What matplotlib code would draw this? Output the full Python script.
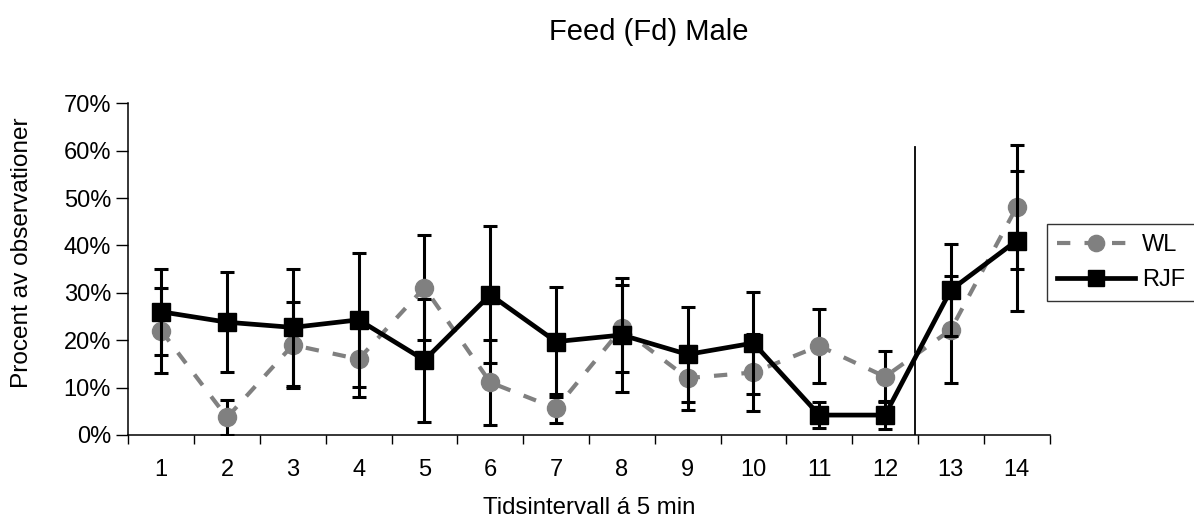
import matplotlib.pyplot as plt
import numpy as np

plt.rcParams['font.family'] = ['Liberation Sans', 'DejaVu Sans']

intervals = [1, 2, 3, 4, 5, 6, 7, 8, 9, 10, 11, 12, 13, 14]
wl = [22.0, 3.7, 19.0, 16.0, 31.1, 11.1, 5.6, 22.5, 12.0, 13.2, 18.8, 12.3, 22.2, 48.1]
wl_err = [9.0, 3.7, 9.1, 8.0, 11.0, 9.0, 3.0, 9.2, 6.7, 8.1, 7.8, 5.4, 11.3, 13.1]
rjf = [26.0, 23.8, 22.7, 24.3, 15.8, 29.6, 19.7, 21.1, 17.0, 19.4, 4.2, 4.2, 30.6, 41.0]
rjf_err = [9.1, 10.6, 12.3, 14.1, 13.0, 14.4, 11.6, 12.0, 10.1, 10.7, 2.7, 2.9, 9.8, 14.8]
yticks = [0, 10, 20, 30, 40, 50, 60, 70]
split_x = 12.45          # vertical divider between interval 12 and 13
split_top = 60.7

x = np.array(intervals)
fig = plt.figure(figsize=(11.94, 5.23), dpi=100)
ax = fig.add_axes([0.1075, 0.1683, 0.7715, 0.6342])

# WL - grey dashed with circles
ax.errorbar(x, wl, yerr=wl_err, fmt='none', ecolor='black', elinewidth=2.2,
            capsize=4.7, capthick=2.2, zorder=2)
wl_line, = ax.plot(x, wl, color='#808080', lw=3, dashes=(3.2, 3.4),
                   marker='o', ms=13, mec='#808080', mfc='#808080', zorder=3)

# RJF - black solid with squares
ax.errorbar(x, rjf, yerr=rjf_err, fmt='none', ecolor='black', elinewidth=2.2,
            capsize=4.7, capthick=2.2, zorder=4)
rjf_line, = ax.plot(x, rjf, color='black', lw=3.4, marker='s', ms=12.5,
                    mec='black', mfc='black', zorder=5)

ax.plot([split_x, split_x], [0, split_top], color='black', lw=1.3, zorder=1)

ax.set_xlim(0.5, 14.5)
ax.set_ylim(0, 70)
ax.set_yticks(yticks)
ax.set_yticklabels([f'{v}%' for v in yticks])
ax.set_xticks(np.arange(0.5, 15, 1))
ax.set_xticklabels([])
ax.set_xticks(x, minor=True)
ax.set_xticklabels([str(i) for i in intervals], minor=True)
ax.tick_params(axis='x', which='major', length=6.5, width=1, direction='out')
ax.tick_params(axis='x', which='minor', length=0, pad=17, labelsize=17)
ax.tick_params(axis='y', length=9, width=1, pad=3.5, labelsize=17)

for s in ['top', 'right']:
    ax.spines[s].set_visible(False)
for s in ['left', 'bottom']:
    ax.spines[s].set_linewidth(1.1)

ax.set_xlabel('Tidsintervall á 5 min', fontsize=17.3, labelpad=12)
fig.text(22 / 1194, 1 - 253 / 523, 'Procent av observationer', rotation=90,
         ha='center', va='center', fontsize=17.6)
fig.text(0.543, 0.939, 'Feed (Fd) Male', ha='center', va='center', fontsize=21)

leg = fig.legend([wl_line, rjf_line], ['WL', 'RJF'], loc='upper left',
                 bbox_to_anchor=(1047 / 1194, 1 - 224 / 523), fontsize=17,
                 frameon=True, fancybox=False, edgecolor='black',
                 handlelength=3.3, borderpad=0.42, labelspacing=0.55,
                 handletextpad=0.3, borderaxespad=0, markerscale=0.9)
leg.get_frame().set_linewidth(1.0)

plt.savefig('out.png', dpi=100)
